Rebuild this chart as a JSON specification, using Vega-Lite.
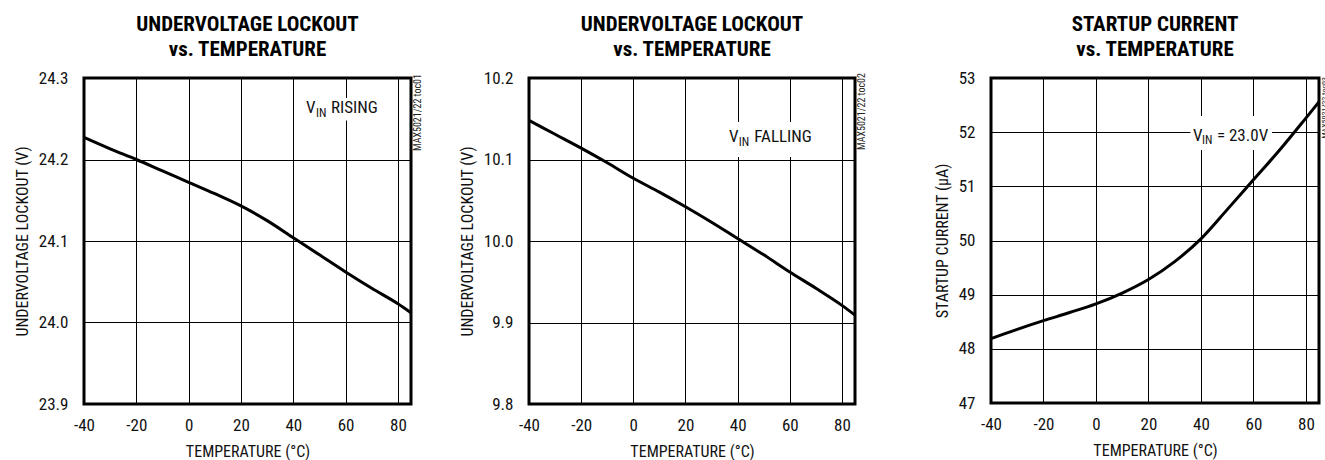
{
  "$schema": "https://vega.github.io/schema/vega-lite/v6.json",
  "padding": {"left": 12, "top": 12, "right": 0, "bottom": 0},
  "config": {
    "font": "Roboto Condensed, DejaVu Sans Condensed, sans-serif",
    "view": {"stroke": "black", "strokeWidth": 3},
    "axis": {
      "grid": true, "gridColor": "black", "gridOpacity": 1, "gridWidth": 1,
      "domain": false, "ticks": false,
      "labelFontSize": 17, "labelColor": "#111", "labelFont": "Roboto Condensed, DejaVu Sans Condensed, sans-serif",
      "labelExpr": "replace(datum.label, '\u2212', '-')",
      "titleFontSize": 16, "titleFontWeight": "normal", "titleColor": "#111", "titleFont": "Roboto Condensed, DejaVu Sans Condensed, sans-serif"
    },
    "axisX": {"labelPadding": 13, "titlePadding": 10, "labelFlush": false},
    "axisY": {"labelPadding": 16, "titlePadding": 8},
    "title": {"fontSize": 21, "fontWeight": "bold", "font": "Roboto Condensed, DejaVu Sans Condensed, sans-serif", "lineHeight": 25, "offset": 9, "color": "#000"}
  },
  "datasets": {
    "p1": [
      {"t": -40, "v": 24.227}, {"t": -30, "v": 24.213}, {"t": -20, "v": 24.2}, {"t": -10, "v": 24.186},
      {"t": 0, "v": 24.172}, {"t": 10, "v": 24.158}, {"t": 20, "v": 24.143}, {"t": 30, "v": 24.125},
      {"t": 40, "v": 24.104}, {"t": 50, "v": 24.083}, {"t": 60, "v": 24.062}, {"t": 70, "v": 24.042},
      {"t": 80, "v": 24.023}, {"t": 85, "v": 24.012}
    ],
    "p2": [
      {"t": -40, "v": 10.148}, {"t": -30, "v": 10.131}, {"t": -20, "v": 10.114}, {"t": -10, "v": 10.096},
      {"t": 0, "v": 10.077}, {"t": 10, "v": 10.06}, {"t": 20, "v": 10.042}, {"t": 30, "v": 10.023},
      {"t": 40, "v": 10.003}, {"t": 50, "v": 9.983}, {"t": 60, "v": 9.962}, {"t": 70, "v": 9.942},
      {"t": 80, "v": 9.921}, {"t": 85, "v": 9.909}
    ],
    "p3": [
      {"t": -40, "v": 48.19}, {"t": -30, "v": 48.36}, {"t": -20, "v": 48.52}, {"t": -10, "v": 48.67},
      {"t": 0, "v": 48.83}, {"t": 10, "v": 49.03}, {"t": 20, "v": 49.28}, {"t": 30, "v": 49.61},
      {"t": 40, "v": 50.03}, {"t": 50, "v": 50.57}, {"t": 60, "v": 51.12}, {"t": 70, "v": 51.67},
      {"t": 80, "v": 52.26}, {"t": 85, "v": 52.56}
    ],
    "m1": [{"x": 44.9, "y": 24.257, "label": "V"}, {"x": 54.4, "y": 24.257, "label": "RISING"}],
    "s1": [{"x": 48.7, "y": 24.252, "label": "IN"}],
    "r1": [{"x1": 44.0, "x2": 72.0, "y1": 24.2755, "y2": 24.248}],
    "c1": [{"x": 85, "y": 24.3, "label": "MAX5021/22 toc01"}],
    "m2": [{"x": 36.7, "y": 10.121, "label": "V"}, {"x": 46.4, "y": 10.121, "label": "FALLING"}],
    "s2": [{"x": 40.4, "y": 10.117, "label": "IN"}],
    "r2": [{"x1": 35.2, "x2": 68.9, "y1": 10.146, "y2": 10.103}],
    "c2": [{"x": 85, "y": 10.2, "label": "MAX5021/22 toc02"}],
    "m3": [{"x": 37.0, "y": 51.84, "label": "V"}, {"x": 46.1, "y": 51.84, "label": "= 23.0V"}],
    "s3": [{"x": 40.4, "y": 51.78, "label": "IN"}],
    "r3": [{"x1": 36.0, "x2": 67.1, "y1": 52.3, "y2": 51.67}],
    "c3": [{"x": 85, "y": 53, "label": "MAX5021/22 toc03"}]
  },
  "hconcat": [
    {
      "hconcat": [
        {
          "width": 327, "height": 326,
          "title": {"text": ["UNDERVOLTAGE LOCKOUT", "vs. TEMPERATURE"]},
          "layer": [
            {
              "data": {"name": "r1"},
              "mark": {"type": "rect", "fill": "white"},
              "encoding": {
                "x": {"field": "x1", "type": "quantitative", "scale": {"domain": [-40, 85], "nice": false},
                      "axis": {"values": [-40, -20, 0, 20, 40, 60, 80], "title": "TEMPERATURE (°C)"}},
                "x2": {"field": "x2"},
                "y": {"field": "y1", "type": "quantitative", "scale": {"domain": [23.9, 24.3], "nice": false, "zero": false},
                      "axis": {"values": [23.9, 24.0, 24.1, 24.2, 24.3], "format": ".1f", "title": "UNDERVOLTAGE LOCKOUT (V)"}},
                "y2": {"field": "y2"}
              }
            },
            {
              "data": {"name": "m1"},
              "mark": {"type": "text", "align": "left", "baseline": "alphabetic", "fontSize": 17, "color": "#111"},
              "encoding": {"x": {"field": "x", "type": "quantitative"}, "y": {"field": "y", "type": "quantitative"}, "text": {"field": "label"}}
            },
            {
              "data": {"name": "s1"},
              "mark": {"type": "text", "align": "left", "baseline": "alphabetic", "fontSize": 12, "color": "#111"},
              "encoding": {"x": {"field": "x", "type": "quantitative"}, "y": {"field": "y", "type": "quantitative"}, "text": {"field": "label"}}
            },
            {
              "data": {"name": "c1"},
              "mark": {"type": "text", "align": "right", "baseline": "top", "angle": -90, "fontSize": 10, "dx": 4, "dy": 2, "color": "#222"},
              "encoding": {"x": {"field": "x", "type": "quantitative"}, "y": {"field": "y", "type": "quantitative"}, "text": {"field": "label"}}
            },
            {
              "data": {"name": "p1"},
              "mark": {"type": "line", "color": "black", "strokeWidth": 3, "interpolate": "monotone"},
              "encoding": {"x": {"field": "t", "type": "quantitative"}, "y": {"field": "v", "type": "quantitative"}}
            }
          ]
        },
        {
          "width": 326, "height": 326,
          "title": {"text": ["UNDERVOLTAGE LOCKOUT", "vs. TEMPERATURE"]},
          "layer": [
            {
              "data": {"name": "r2"},
              "mark": {"type": "rect", "fill": "white"},
              "encoding": {
                "x": {"field": "x1", "type": "quantitative", "scale": {"domain": [-40, 85], "nice": false},
                      "axis": {"values": [-40, -20, 0, 20, 40, 60, 80], "title": "TEMPERATURE (°C)"}},
                "x2": {"field": "x2"},
                "y": {"field": "y1", "type": "quantitative", "scale": {"domain": [9.8, 10.2], "nice": false, "zero": false},
                      "axis": {"values": [9.8, 9.9, 10.0, 10.1, 10.2], "format": ".1f", "title": "UNDERVOLTAGE LOCKOUT (V)"}},
                "y2": {"field": "y2"}
              }
            },
            {
              "data": {"name": "m2"},
              "mark": {"type": "text", "align": "left", "baseline": "alphabetic", "fontSize": 17, "color": "#111"},
              "encoding": {"x": {"field": "x", "type": "quantitative"}, "y": {"field": "y", "type": "quantitative"}, "text": {"field": "label"}}
            },
            {
              "data": {"name": "s2"},
              "mark": {"type": "text", "align": "left", "baseline": "alphabetic", "fontSize": 12, "color": "#111"},
              "encoding": {"x": {"field": "x", "type": "quantitative"}, "y": {"field": "y", "type": "quantitative"}, "text": {"field": "label"}}
            },
            {
              "data": {"name": "c2"},
              "mark": {"type": "text", "align": "right", "baseline": "top", "angle": -90, "fontSize": 10, "dx": 5, "dy": 2, "color": "#222"},
              "encoding": {"x": {"field": "x", "type": "quantitative"}, "y": {"field": "y", "type": "quantitative"}, "text": {"field": "label"}}
            },
            {
              "data": {"name": "p2"},
              "mark": {"type": "line", "color": "black", "strokeWidth": 3, "interpolate": "monotone"},
              "encoding": {"x": {"field": "t", "type": "quantitative"}, "y": {"field": "v", "type": "quantitative"}}
            }
          ]
        }
      ],
      "spacing": 32
    },
    {
      "width": 328, "height": 325,
      "title": {"text": ["STARTUP CURRENT", "vs. TEMPERATURE"]},
      "layer": [
        {
          "data": {"name": "r3"},
          "mark": {"type": "rect", "fill": "white"},
          "encoding": {
            "x": {"field": "x1", "type": "quantitative", "scale": {"domain": [-40, 85], "nice": false},
                  "axis": {"values": [-40, -20, 0, 20, 40, 60, 80], "title": "TEMPERATURE (°C)"}},
            "x2": {"field": "x2"},
            "y": {"field": "y1", "type": "quantitative", "scale": {"domain": [47, 53], "nice": false, "zero": false},
                  "axis": {"values": [47, 48, 49, 50, 51, 52, 53], "format": "d", "title": "STARTUP CURRENT (μA)"}},
            "y2": {"field": "y2"}
          }
        },
        {
          "data": {"name": "m3"},
          "mark": {"type": "text", "align": "left", "baseline": "alphabetic", "fontSize": 17, "color": "#111"},
          "encoding": {"x": {"field": "x", "type": "quantitative"}, "y": {"field": "y", "type": "quantitative"}, "text": {"field": "label"}}
        },
        {
          "data": {"name": "s3"},
          "mark": {"type": "text", "align": "left", "baseline": "alphabetic", "fontSize": 12, "color": "#111"},
          "encoding": {"x": {"field": "x", "type": "quantitative"}, "y": {"field": "y", "type": "quantitative"}, "text": {"field": "label"}}
        },
        {
          "data": {"name": "c3"},
          "mark": {"type": "text", "align": "right", "baseline": "top", "angle": -90, "fontSize": 8, "dx": 1, "dy": 2, "color": "#222"},
          "encoding": {"x": {"field": "x", "type": "quantitative"}, "y": {"field": "y", "type": "quantitative"}, "text": {"field": "label"}}
        },
        {
          "data": {"name": "p3"},
          "mark": {"type": "line", "color": "black", "strokeWidth": 3, "interpolate": "monotone"},
          "encoding": {"x": {"field": "t", "type": "quantitative"}, "y": {"field": "v", "type": "quantitative"}}
        }
      ]
    }
  ],
  "spacing": 63
}
